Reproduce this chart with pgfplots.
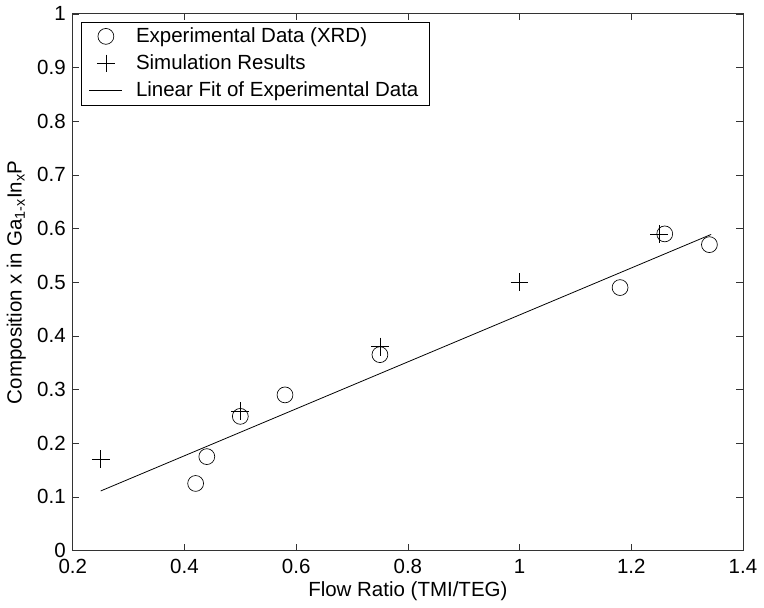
\documentclass[border=0pt]{standalone}
\usepackage{pgfplots}
\pgfplotsset{compat=1.18}
\usepackage{fontspec}
\setmainfont{Liberation Sans}
\pgfplotsset{
  markleg/.style={legend image code/.code={\draw[mark repeat=2,mark phase=2,##1] plot coordinates {(0pt,0pt) (12.5pt,0pt) (25pt,0pt)};\path (33pt,0pt);}},
  lineleg/.style={legend image code/.code={\draw[##1] (0pt,0pt) -- (25pt,0pt);\path (33pt,0pt);}},
}
\begin{document}
\fontsize{15.5}{18.6}\selectfont
\begin{tikzpicture}
\begin{axis}[
  scale only axis,
  width=507pt, height=406pt,
  xmin=0.2, xmax=1.4, ymin=0, ymax=1,
  xtick={0.2,0.4,...,1.4},
  ytick={0,0.1,...,1},
  tick align=inside,
  xtick pos=both, ytick pos=both,
  major tick length=5pt,
  /pgf/number format/assume math mode=true,
  tick label style={font=\fontsize{15.5}{18.6}\selectfont},
  label style={font=\fontsize{15.5}{18.6}\selectfont},
  xticklabel style={yshift=-1pt},
  xlabel={Flow Ratio (TMI/TEG)},
  ylabel={Composition x in Ga\textsubscript{1-x}In\textsubscript{x}P},
  xlabel style={yshift=4pt},
  ylabel style={yshift=-2pt},
  axis line style={black!80, line width=0.6pt},
  tick style={black!80, line width=0.5pt},
  legend cell align=left,
  legend style={at={(rel axis cs:0,1)}, anchor=north west, xshift=6pt, yshift=-6pt,
    font=\fontsize{15.5}{18.6}\selectfont, draw=black, line width=0.5pt,
    row sep=3pt, inner xsep=6pt, inner ysep=2pt},
]
\addplot[only marks, mark=o, mark size=6pt, black, line width=0.5pt, markleg]
  coordinates {(0.42,0.125) (0.44,0.175) (0.5,0.25) (0.58,0.29) (0.75,0.365) (1.18,0.49) (1.26,0.59) (1.34,0.57)};
\addlegendentry{Experimental Data (XRD)}
\addplot[only marks, mark=+, mark size=6.75pt, black, line width=0.5pt, markleg]
  coordinates {(0.25,0.17) (0.5,0.26) (0.75,0.38) (1.0,0.5) (1.25,0.59)};
\addlegendentry{Simulation Results}
\addplot[black, line width=0.6pt, lineleg] coordinates {(0.25,0.111) (1.343,0.589)};
\addlegendentry{Linear Fit of Experimental Data}
\end{axis}
\end{tikzpicture}
\end{document}
